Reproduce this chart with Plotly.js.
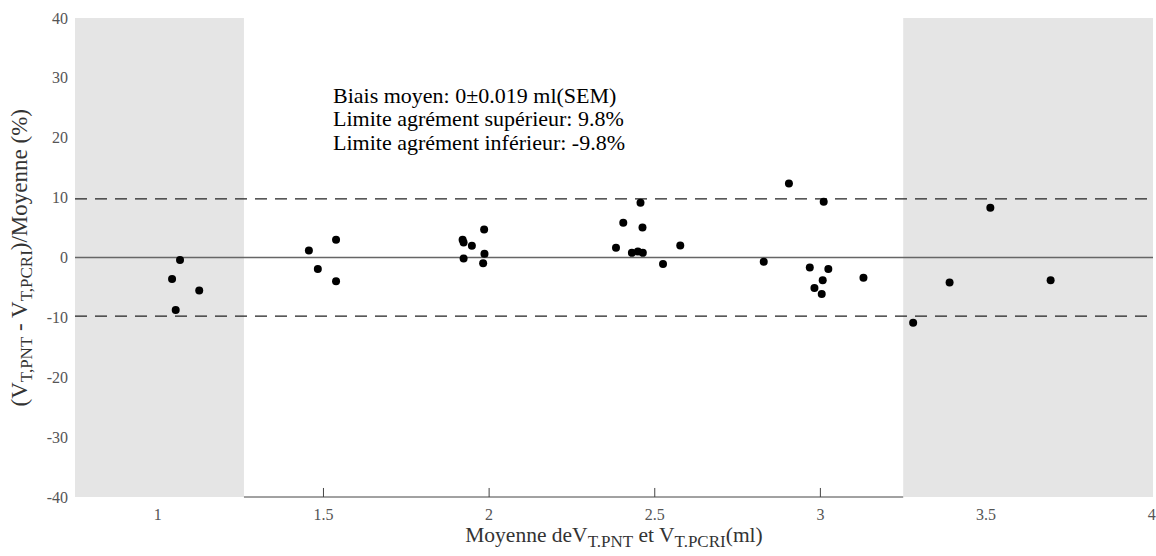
<!DOCTYPE html>
<html>
<head>
<meta charset="utf-8">
<script src="https://cdn.plot.ly/plotly-3.0.1.min.js"></script>
<style>html,body{margin:0;padding:0;background:#fff;}#chart{width:1156px;height:556px;}</style>
</head>
<body>
<div id="chart"></div>
<script>
// Mean of the two volumes (ml)
const meanVolume = [1.067, 1.043, 1.125, 1.054,
  1.456, 1.538, 1.483, 1.538,
  1.920, 1.923, 1.948, 1.985, 1.923, 1.986, 1.982,
  2.457, 2.405, 2.463, 2.383, 2.431, 2.449, 2.464, 2.577, 2.525,
  2.905, 3.010, 2.829, 2.968, 3.024, 3.007, 2.982, 3.004, 3.130,
  3.513, 3.390, 3.695, 3.280];
// Relative difference (%)
const relDiff = [-0.4, -3.6, -5.5, -8.75,
  1.17, 2.95, -1.9, -3.96,
  2.95, 2.5, 1.95, 4.68, -0.17, 0.61, -0.95,
  9.14, 5.8, 5.0, 1.62, 0.78, 1.0, 0.78, 2.0, -1.1,
  12.37, 9.3, -0.73, -1.67, -1.9, -3.8, -5.1, -6.1, -3.4,
  8.3, -4.18, -3.8, -10.9];
const bias = 0;
const upperLoA = 9.8;
const lowerLoA = -9.8;
const xRange = [0.75, 4.004];
const yRange = [-40, 40];
const shadeLeft = [0.75, 1.26];
const shadeRight = [3.25, 4.004];
const xTicks = [1, 1.5, 2, 2.5, 3, 3.5, 4];
const xTickLabels = ['1', '1.5', '2', '2.5', '3', '3.5', '4'];
const xTickMarks = [1.5, 2, 2.5, 3];
const yTicks = [-40, -30, -20, -10, 0, 10, 20, 30, 40];
const yTickLabels = ['-40', '-30', '-20', '-10', '0', '10', '20', '30', '40'];
const annotLines = ['Biais moyen: 0\u00b10.019 ml(SEM)',
  'Limite agr\u00e9ment sup\u00e9rieur: 9.8%',
  'Limite agr\u00e9ment inf\u00e9rieur: -9.8%'];

const serif = 'Liberation Serif, Times New Roman, serif';

function band(b) {
  return {
    x: [b[0], b[1], b[1], b[0], b[0]],
    y: [yRange[0], yRange[0], yRange[1], yRange[1], yRange[0]],
    mode: 'lines', fill: 'toself', fillcolor: '#e5e5e5',
    line: {width: 0, color: '#e5e5e5'}, hoverinfo: 'skip', showlegend: false
  };
}

const traces = [
  band(shadeLeft), band(shadeRight),
  {x: xRange, y: [bias, bias], mode: 'lines', line: {color: '#666666', width: 1.6}, hoverinfo: 'skip', showlegend: false},
  {x: xRange, y: [upperLoA, upperLoA], mode: 'lines', line: {color: '#222222', width: 1.2, dash: '12px,8px'}, hoverinfo: 'skip', showlegend: false},
  {x: xRange, y: [lowerLoA, lowerLoA], mode: 'lines', line: {color: '#222222', width: 1.2, dash: '12px,8px'}, hoverinfo: 'skip', showlegend: false},
  {x: meanVolume, y: relDiff, mode: 'markers', marker: {color: '#000', size: 8, symbol: 'circle'}, showlegend: false, hoverinfo: 'skip'}
];

const sub = s => '<sub><span style="font-size:17px">' + s + '</span></sub>';

const lineGap = 23.5;
const annotations = annotLines.map((t, i) => ({
  xref: 'paper', yref: 'paper', x: (331 - 75) / 1078, y: 1 - (95 + i * lineGap - 18) / 478,
  xanchor: 'left', yanchor: 'middle', align: 'left', showarrow: false,
  text: t, font: {family: serif, size: 22, color: '#000'}
}));
annotations.push({
  xref: 'paper', yref: 'paper', x: (22 - 75) / 1078, y: 1 - (258 - 18) / 478,
  xanchor: 'center', yanchor: 'middle', textangle: -90, showarrow: false,
  text: '(V' + sub('T,PNT') + ' - V' + sub('T,PCRI') + ')/Moyenne (%)',
  font: {family: serif, size: 23, color: '#333'}
});

// small tick marks on the bottom axis line (white region only)
const tickShapes = xTickMarks.map(v => ({
  type: 'line', xref: 'x', yref: 'paper', x0: v, x1: v, y0: 0, y1: 9 / 478,
  line: {color: '#444', width: 1}, layer: 'above'
}));

const layout = {
  width: 1156, height: 556,
  margin: {l: 75, r: 3, t: 18, b: 59},
  paper_bgcolor: '#fff', plot_bgcolor: '#fff',
  showlegend: false,
  font: {family: serif, color: '#000'},
  xaxis: {
    range: xRange, tickvals: xTicks, ticktext: xTickLabels,
    showgrid: false, zeroline: false, showline: false,
    ticks: '',
    tickfont: {family: serif, size: 16, color: '#555'},
    ticklabelstandoff: 6,
    title: {text: 'Moyenne deV' + sub('T.PNT') + ' et V' + sub('T.PCRI') + '(ml)', font: {family: serif, size: 21.5, color: '#333'}, standoff: 4},
    fixedrange: true
  },
  yaxis: {
    range: yRange, tickvals: yTicks, ticktext: yTickLabels,
    showgrid: false, zeroline: false, showline: false,
    ticks: '',
    tickfont: {family: serif, size: 16, color: '#555'},
    ticklabelstandoff: 6,
    fixedrange: true
  },
  shapes: [
    {type: 'line', xref: 'x', yref: 'paper', x0: shadeLeft[1], x1: shadeRight[0], y0: 0, y1: 0, line: {color: '#444', width: 1}, layer: 'above'}
  ].concat(tickShapes),
  annotations: annotations
};

Plotly.newPlot('chart', traces, layout, {displayModeBar: false, staticPlot: true});
</script>
</body>
</html>
